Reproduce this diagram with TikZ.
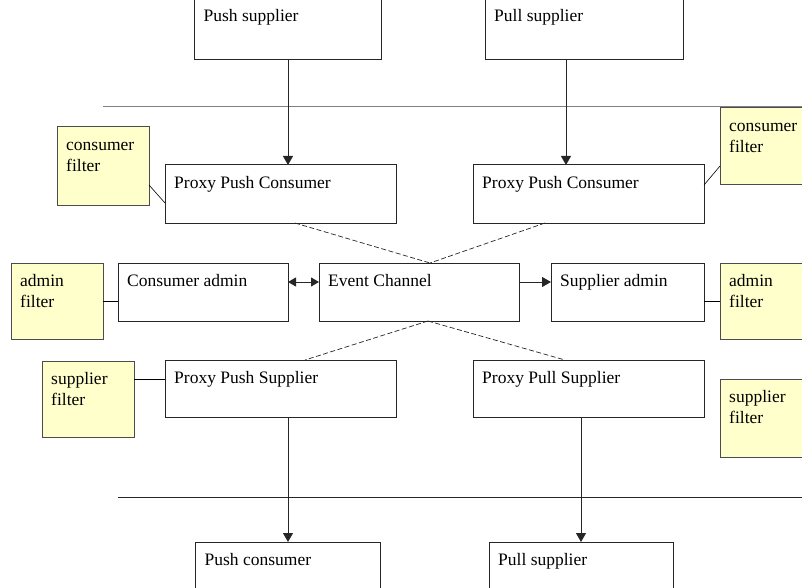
\documentclass[tikz,border=0pt]{standalone}
\usepackage{fontspec}
\setmainfont{Liberation Serif}
\usepackage{tikz}
\usetikzlibrary{arrows.meta}
\definecolor{filteryellow}{HTML}{FFFFCC}
\tikzset{
	box/.style={draw=black!85, line width=1pt, inner sep=0pt, outer sep=0pt},
	filt/.style={box, draw=black!70, fill=filteryellow, minimum width=92pt},
	txt/.style={anchor=north west, inner sep=0pt, xshift=9pt, yshift=-9pt, align=left, font=\fontsize{17.5}{21}\selectfont},
	arr/.style={line width=1pt, draw=black!85, -{Triangle[length=9pt,width=10pt]}},
	darr/.style={line width=1pt, draw=black!85, {Triangle[length=8pt,width=9pt]}-{Triangle[length=8pt,width=9pt]}},
	link/.style={line width=0.7pt, draw=black!85, dash pattern=on 5pt off 2.5pt},
}
\begin{document}
\begin{tikzpicture}[x=1pt, y=-1pt]
		\clip (0,0) rectangle (802,588);
		\node[box, minimum width=187pt, minimum height=62pt, label={[txt]north west:\strut Push supplier}] (psup) at (288,29) {};
		\node[box, minimum width=198pt, minimum height=62pt, label={[txt]north west:\strut Pull supplier}] (plsup) at (584,29) {};
		
		\node[filt, minimum height=78pt, label={[txt]north west:\strut consumer\\filter}] (cf1) at (103,166) {};
		\node[box, minimum width=231pt, minimum height=58pt, label={[txt]north west:\strut Proxy Push Consumer}] (ppc1) at (280.5,194) {};
		\node[box, minimum width=231pt, minimum height=58pt, label={[txt]north west:\strut Proxy Push Consumer}] (ppc2) at (588.5,194) {};
		\node[filt, minimum height=76pt, label={[txt]north west:\strut consumer\\filter}] (cf2) at (766,146) {};
		
		\node[filt, minimum height=76pt, label={[txt]north west:\strut admin\\filter}] (af1) at (57,301) {};
		\node[box, minimum width=170pt, minimum height=58pt, label={[txt]north west:\strut Consumer admin}] (cadm) at (203,292) {};
		\node[box, minimum width=200pt, minimum height=58pt, label={[txt]north west:\strut Event Channel}] (ech) at (419,292) {};
		\node[box, minimum width=153pt, minimum height=58pt, label={[txt]north west:\strut Supplier admin}] (sadm) at (627.5,292) {};
		\node[filt, minimum height=76pt, label={[txt]north west:\strut admin\\filter}] (af2) at (766,301) {};
		
		\node[filt, minimum height=76pt, label={[txt]north west:\strut supplier\\filter}] (sf1) at (88,399) {};
		\node[box, minimum width=231pt, minimum height=57pt, label={[txt]north west:\strut Proxy Push Supplier}] (pps) at (280.5,388.5) {};
		\node[box, minimum width=231pt, minimum height=57pt, label={[txt]north west:\strut Proxy Pull Supplier}] (plls) at (588.5,388.5) {};
		\node[filt, minimum height=78pt, label={[txt]north west:\strut supplier\\filter}] (sf2) at (766,418) {};
		
		\node[box, minimum width=185pt, minimum height=58pt, label={[txt]north west:\strut Push consumer}] (pcons) at (288,571) {};
		\node[box, minimum width=184pt, minimum height=58pt, label={[txt]north west:\strut Pull supplier}] (psup2) at (581,571) {};
		
		% separators
		\coordinate (s1a) at (103,107);
		\coordinate (s1b) at (802,107);
		\coordinate (s2a) at (118,497);
		\coordinate (s2b) at (802,497);
		\draw[black!50, line width=1pt] (s1a) -- (s1b);
		\draw[black!85, line width=1pt] (s2a) -- (s2b);
		
		\draw[arr] (psup.south) -- (psup.south |- ppc1.north);
		\draw[arr] ([xshift=-18pt]plsup.south) -- ([xshift=-22.5pt]ppc2.north);
		\draw[arr] ([xshift=7.5pt]pps.south) -- (pcons.north);
		\draw[arr] ([xshift=-7.5pt]plls.south) -- (psup2.north);
		
		\draw[link] ([xshift=14.5pt]ppc1.south) -- ([xshift=11pt]ech.north);
		\draw[link] ([xshift=-43.5pt]ppc2.south) -- ([xshift=11pt]ech.north);
		\draw[link] ([xshift=9pt]ech.south) -- ([xshift=24.5pt]pps.north);
		\draw[link] ([xshift=9pt]ech.south) -- ([xshift=-23.5pt]plls.north);
		
		\draw[darr] ([yshift=10pt]cadm.east) -- ([yshift=10pt]ech.west);
		\draw[arr] ([yshift=10pt]ech.east) -- ([yshift=10pt]sadm.west);
		
		\draw[line width=0.6pt] ([yshift=-19pt]cf1.east) -- ([yshift=-9pt]ppc1.west);
		\draw[line width=0.6pt] ([yshift=9pt]ppc2.east) -- ([yshift=-20pt]cf2.west);
		\draw[line width=1pt] (af1.east) -- (af1.east -| cadm.west);
		\draw[line width=1pt] (af2.west -| sadm.east) -- (af2.west);
		\draw[line width=1pt] ([yshift=20pt]sf1.east) -- ([yshift=9.5pt]pps.west);
\end{tikzpicture}
\end{document}
